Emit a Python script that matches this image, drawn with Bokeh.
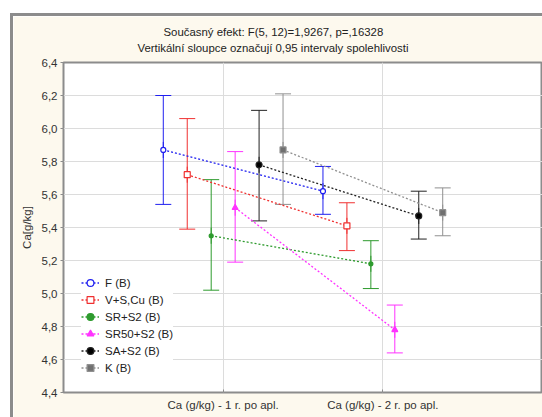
import math
from bokeh.plotting import figure
from bokeh.layouts import column, row
from bokeh.models import (Range1d, FixedTicker, CustomJSTickFormatter, Title, Legend,
                          LegendItem, Whisker, ColumnDataSource, TeeHead, Spacer)
from bokeh.embed import file_html
from bokeh.resources import INLINE

# ---- data ----
categories = ["Ca (g/kg) - 1 r. po apl.", "Ca (g/kg) - 2 r. po apl."]
groups = ["F (B)", "V+S,Cu (B)", "SR+S2 (B)", "SR50+S2 (B)", "SA+S2 (B)", "K (B)"]
means_1 = [5.87, 5.72, 5.35, 5.52, 5.78, 5.87]
lower_1 = [5.54, 5.39, 5.02, 5.19, 5.44, 5.54]
upper_1 = [6.20, 6.06, 5.69, 5.86, 6.11, 6.21]
means_2 = [5.62, 5.41, 5.18, 4.78, 5.47, 5.49]
lower_2 = [5.48, 5.26, 5.03, 4.64, 5.33, 5.35]
upper_2 = [5.77, 5.55, 5.32, 4.93, 5.62, 5.64]
y_ticks = [4.4, 4.6, 4.8, 5.0, 5.2, 5.4, 5.6, 5.8, 6.0, 6.2, 6.4]

colors = ["#2020F0", "#F03030", "#2E9B2E", "#FF33FF", "#222222", "#909090"]
markers = ["circle", "square", "circle", "triangle", "circle", "square"]
fills = ["white", "white", "#2E9B2E", "#FF33FF", "#000000", "#707070"]
msizes = [5, 6, 4, 6, 6, 6]
offset_step = 0.15

CREAM = "#FDF9EE"
FRAME = "#8C8C8C"
FONT = "Liberation Sans"
FS = "11.5px"

W, H = 529, 401
p = figure(width=W, height=H, x_range=Range1d(0, 3), y_range=Range1d(4.4, 6.4),
           output_backend="svg", toolbar_location=None, title=None,
           min_border_left=50, min_border_right=0, min_border_bottom=25, min_border_top=46)
p.border_fill_color = CREAM
p.background_fill_color = "white"
p.outline_line_color = FRAME
p.outline_line_width = 2

# titles
t2 = Title(text="Vertikální sloupce označují 0,95 intervaly spolehlivosti", align="left",
           offset=74, text_font=FONT, text_font_size="11.4px",
           text_font_style="normal", text_color="#222222", standoff=18)
t1 = Title(text="Současný efekt: F(5, 12)=1,9267, p=,16328", align="left",
           offset=100, text_font=FONT, text_font_size="11.4px",
           text_font_style="normal", text_color="#222222", standoff=-15)
p.add_layout(t2, "above")
p.add_layout(t1, "above")

# axes
p.xaxis.ticker = FixedTicker(ticks=[1, 2])
p.xaxis.major_label_overrides = {1: categories[0], 2: categories[1]}
p.yaxis.ticker = FixedTicker(ticks=y_ticks)
p.yaxis.formatter = CustomJSTickFormatter(code="return tick.toFixed(1).replace('.', ',');")
for ax in (p.xaxis[0], p.yaxis[0]):
    ax.axis_line_color = None
    ax.major_tick_line_color = FRAME
    ax.minor_tick_line_color = None
    ax.major_label_text_font = FONT
    ax.major_label_text_font_size = FS
    ax.major_label_text_color = "#333333"
p.xaxis.major_tick_in = 3
p.xaxis.major_tick_out = 0
p.xaxis.major_label_standoff = 6
p.yaxis.major_tick_in = 0
p.yaxis.major_tick_out = 3
p.yaxis.major_label_standoff = 3
p.yaxis.axis_label = "Ca[g/kg]"
p.yaxis.axis_label_text_font = FONT
p.yaxis.axis_label_text_font_size = FS
p.yaxis.axis_label_text_font_style = "normal"
p.yaxis.axis_label_text_color = "#333333"
p.yaxis.axis_label_standoff = 6

p.xgrid.ticker = FixedTicker(ticks=[1, 2])
p.ygrid.ticker = FixedTicker(ticks=y_ticks)
p.grid.grid_line_color = "#DCDCDC"
p.grid.grid_line_width = 1

items = []
for i, g in enumerate(groups):
    off = (i - 2.5) * offset_step
    xs = [1 + off, 2 + off]
    ms = [means_1[i], means_2[i]]
    src = ColumnDataSource(dict(x=xs, m=ms, lo=[lower_1[i], lower_2[i]], hi=[upper_1[i], upper_2[i]]))
    w = Whisker(base="x", upper="hi", lower="lo", dimension="height", source=src,
                line_color=colors[i], line_width=1,
                upper_head=TeeHead(size=16, line_color=colors[i], line_width=1),
                lower_head=TeeHead(size=16, line_color=colors[i], line_width=1))
    p.add_layout(w)
    vbar = p.scatter("x", "m", source=src, marker="dash", angle=math.pi / 2, size=16,
                     line_color=colors[i], line_width=1)
    ln = p.line("x", "m", source=src, line_color=colors[i], line_dash="2 2", line_width=1.3)
    mk = p.scatter("x", "m", source=src, marker=markers[i], size=msizes[i],
                   line_color=colors[i], fill_color=fills[i], line_width=1.2)
    items.append(LegendItem(label=g, renderers=[vbar, ln, mk]))

legend = Legend(items=items, location=(18, 16), orientation="vertical",
                background_fill_color="white", background_fill_alpha=1,
                border_line_color=None, padding=4, margin=0, spacing=0,
                glyph_width=18, glyph_height=17, label_height=17, label_standoff=6,
                label_text_font=FONT, label_text_font_size=FS,
                label_text_color="#222222")
p.add_layout(legend, "center")

# outer frame: white gap + gray border on top/left
top_bar = Spacer(width=W + 3, height=3, background=FRAME)
left_bar = Spacer(width=3, height=H, background=FRAME)
inner = column(top_bar, row(left_bar, p, spacing=0), spacing=0)
layout = column(Spacer(width=W + 13, height=13),
                row(Spacer(width=10, height=H + 3), inner, spacing=0), spacing=0)

open("out.html", "w").write(file_html(layout, INLINE))
